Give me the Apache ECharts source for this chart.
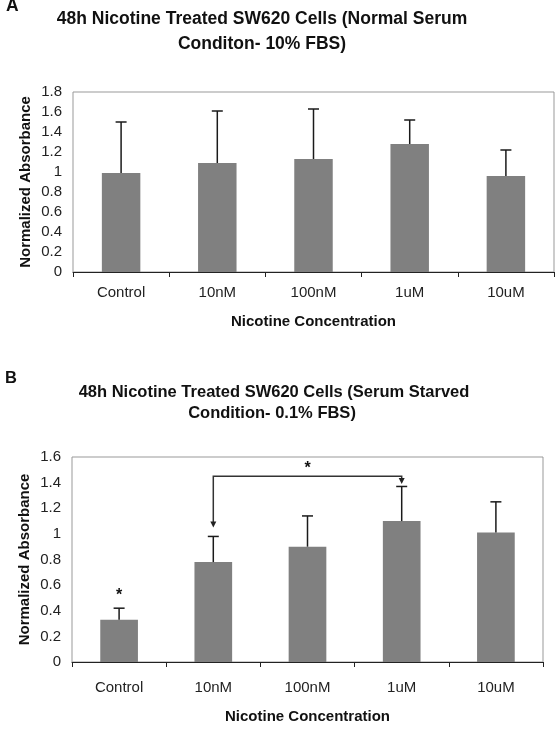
<!DOCTYPE html>
<html>
<head>
<meta charset="utf-8">
<script src="https://cdn.jsdelivr.net/npm/echarts@6/dist/echarts.min.js"></script>
<style>
  html, body { margin: 0; padding: 0; background: #fff; }
  #main { width: 560px; height: 746px; }
</style>
</head>
<body>
<div id="main"></div>
<script>
// data
const categories = ['Control', '10nM', '100nM', '1uM', '10uM'];

// panel A: normal serum (10% FBS)
const meanA = [0.99, 1.09, 1.13, 1.28, 0.96];
const errTopA = [1.50, 1.61, 1.63, 1.52, 1.22];

// panel B: serum starved (0.1% FBS)
const meanB = [0.33, 0.78, 0.90, 1.10, 1.01];
const errTopB = [0.42, 0.98, 1.14, 1.37, 1.25];

// significance marks in panel B
const bracketB = [[1, 3, 1.45, 1.05, 1.39]]; // from, to, line level, tip at from, tip at to
const starsB = [[0, 0.52], [2, 1.51]];

const FONT = 'Liberation Sans, Arial, sans-serif';
const chart = echarts.init(document.getElementById('main'));

function errorItem(params, api) {
  const base = api.coord([api.value(0), api.value(1)]);
  const top = api.coord([api.value(0), api.value(2)]);
  const st = { stroke: '#1a1a1a', lineWidth: 1.5 };
  return {
    type: 'group',
    children: [
      { type: 'line', shape: { x1: base[0], y1: base[1], x2: top[0], y2: top[1] }, style: st },
      { type: 'line', shape: { x1: top[0] - 5.5, y1: top[1], x2: top[0] + 5.5, y2: top[1] }, style: st }
    ]
  };
}

function bracketItem(params, api) {
  const a = api.coord([api.value(0), api.value(3)]);
  const a2 = api.coord([api.value(0), api.value(2)]);
  const b2 = api.coord([api.value(1), api.value(2)]);
  const b = api.coord([api.value(1), api.value(4)]);
  const st = { stroke: '#333', lineWidth: 1.5, fill: null };
  const head = (p) => ({
    type: 'polygon',
    shape: { points: [[p[0] - 3, p[1] - 6], [p[0] + 3, p[1] - 6], [p[0], p[1]]] },
    style: { fill: '#222' }
  });
  return {
    type: 'group',
    children: [
      { type: 'polyline', shape: { points: [[a[0], a[1] - 5], a2, b2, [b[0], b[1] - 5]] }, style: st },
      head(a),
      head(b)
    ]
  };
}

function starItem(params, api) {
  const p = api.coord([api.value(0), api.value(1)]);
  return {
    type: 'text',
    x: p[0],
    y: p[1],
    style: { text: '*', font: 'bold 16px ' + FONT, align: 'center', verticalAlign: 'middle', fill: '#111' }
  };
}

function xAxisFor(idx, labelMargin, nameGap) {
  return {
    type: 'category',
    gridIndex: idx,
    data: categories,
    name: 'Nicotine Concentration',
    nameLocation: 'middle',
    nameGap: nameGap,
    nameMoveOverlap: false,
    nameTextStyle: { fontFamily: FONT, fontSize: 15, fontWeight: 'bold', color: '#111' },
    axisLine: { lineStyle: { color: '#222', width: 1 } },
    axisTick: { show: true, length: 5, lineStyle: { color: '#222' } },
    axisLabel: { fontFamily: FONT, fontSize: 15, color: '#222', margin: labelMargin }
  };
}

function yAxisFor(idx, max) {
  return {
    type: 'value',
    gridIndex: idx,
    min: 0,
    max: max,
    interval: 0.2,
    name: 'Normalized Absorbance',
    nameLocation: 'middle',
    nameGap: 40,
    nameMoveOverlap: false,
    nameTextStyle: { fontFamily: FONT, fontSize: 15, fontWeight: 'bold', color: '#111' },
    axisLine: { show: false },
    axisTick: { show: false },
    splitLine: { show: false },
    axisLabel: { fontFamily: FONT, fontSize: 15, color: '#222', margin: 11 }
  };
}

const titleA = { fontFamily: FONT, fontSize: 17.5, fontWeight: 'bold', color: '#111' };
const titleB = { fontFamily: FONT, fontSize: 16.5, fontWeight: 'bold', color: '#111' };

chart.setOption({
  animation: false,
  title: [
    { text: 'A', left: 1, top: -8, textStyle: titleA },
    { text: '48h Nicotine Treated SW620 Cells (Normal Serum', left: 257, top: 5, textAlign: 'center', textStyle: titleA },
    { text: 'Conditon- 10% FBS)', left: 257, top: 30, textAlign: 'center', textStyle: titleA },
    { text: 'B', left: 0, top: 365, textStyle: titleB },
    { text: '48h Nicotine Treated SW620 Cells (Serum Starved', left: 269, top: 379, textAlign: 'center', textStyle: titleB },
    { text: 'Condition- 0.1% FBS)', left: 267, top: 400, textAlign: 'center', textStyle: titleB }
  ],
  grid: [
    { left: 73, top: 92, width: 481, height: 180, show: true, borderColor: '#999', borderWidth: 1, containLabel: false },
    { left: 72, top: 457, width: 471, height: 205, show: true, borderColor: '#999', borderWidth: 1, containLabel: false }
  ],
  xAxis: [xAxisFor(0, 13, 42), xAxisFor(1, 18, 47)],
  yAxis: [yAxisFor(0, 1.8), yAxisFor(1, 1.6)],
  series: [
    {
      type: 'bar', xAxisIndex: 0, yAxisIndex: 0, data: meanA, barWidth: '40%',
      itemStyle: { color: '#808080' }
    },
    {
      type: 'custom', xAxisIndex: 0, yAxisIndex: 0, renderItem: errorItem,
      data: meanA.map((v, i) => [i, v, errTopA[i]]), encode: { x: 0, y: [1, 2] }, z: 3
    },
    {
      type: 'bar', xAxisIndex: 1, yAxisIndex: 1, data: meanB, barWidth: '40%',
      itemStyle: { color: '#808080' }
    },
    {
      type: 'custom', xAxisIndex: 1, yAxisIndex: 1, renderItem: errorItem,
      data: meanB.map((v, i) => [i, v, errTopB[i]]), encode: { x: 0, y: [1, 2] }, z: 3
    },
    {
      type: 'custom', xAxisIndex: 1, yAxisIndex: 1, renderItem: bracketItem,
      data: bracketB, encode: { x: [0, 1], y: [2, 3, 4] }, z: 4
    },
    {
      type: 'custom', xAxisIndex: 1, yAxisIndex: 1, renderItem: starItem,
      data: starsB, encode: { x: 0, y: 1 }, z: 4
    }
  ]
});
</script>
</body>
</html>
